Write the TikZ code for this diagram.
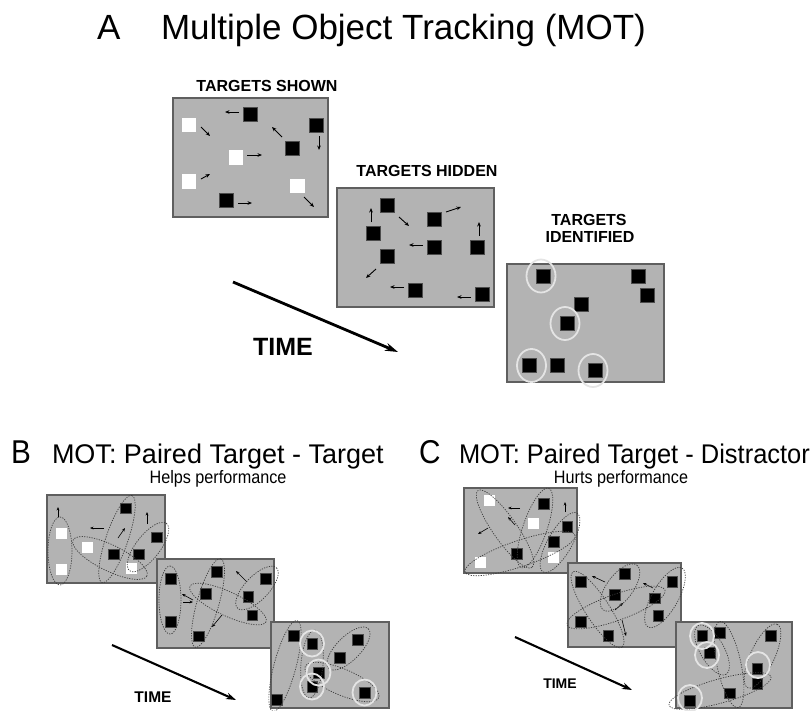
\documentclass[tikz,border=0pt]{standalone}
\usepackage{fontspec}
\setmainfont{Liberation Sans}
\usetikzlibrary{arrows.meta}
\definecolor{panelgray}{RGB}{179,179,179}
\definecolor{framegray}{RGB}{95,95,95}
\definecolor{ringgray}{RGB}{228,228,228}
\definecolor{pairgray}{RGB}{60,60,60}
\newcommand\hsc[2]{\scalebox{#1}[1]{#2}}
\newcommand\sq[4]{\node[#1] (#2) at (#3,#4) {};}
\newcommand\pairell[5]{\draw[pair,rotate around={#5:(#1,#2)}] (#1,#2) ellipse ({#3} and {#4});}
\newcommand\ringat[3]{\draw[ring] (#2,#3) ellipse (12 and 13);}
\begin{document}
\begin{tikzpicture}[x=1pt,y=-1pt,
  panel/.style={fill=panelgray,draw=framegray,line width=1.1pt},
  bigblk/.style={fill=black,draw=black!70,line width=0.4pt,minimum size=14pt,inner sep=0pt,outer sep=0pt},
  bigwht/.style={fill=white,draw=none,minimum size=14.5pt,inner sep=0pt,outer sep=0pt},
  smlblk/.style={fill=black,draw=black!70,line width=0.3pt,minimum size=10.5pt,inner sep=0pt,outer sep=0pt},
  smlwht/.style={fill=white,draw=none,minimum size=11pt,inner sep=0pt,outer sep=0pt},
  mov/.style={line width=0.9pt,-{Stealth[length=4.5pt,width=3.6pt]}},
  movs/.style={line width=0.6pt,-{Stealth[length=3.5pt,width=2.8pt]}},
  ring/.style={draw=ringgray,line width=1.8pt},
  pair/.style={draw=pairgray,line width=0.7pt,dash pattern=on 1.2pt off 1.3pt},
  timearrow/.style={line width=2.8pt,-{Stealth[length=13pt,width=8pt]}},
  timearrowsm/.style={line width=2.1pt,-{Stealth[length=10pt,width=6.5pt]}},
  lbl/.style={font=\bfseries\fontsize{16}{18}\selectfont,inner sep=0pt},
  txt/.style={inner sep=0pt,outer sep=0pt},
]
\useasboundingbox (0,0) rectangle (811,710);

% ---------------- Titles ----------------
\node[txt,anchor=base west] (tA) at (97,39) {\fontsize{35}{40}\selectfont A};
\node[txt,anchor=base west] (tAtitle) at (161,39) {\fontsize{35}{40}\selectfont Multiple Object Tracking (MOT)};

\node[txt,anchor=base west] (tB) at (11,463) {\fontsize{33}{36}\selectfont\hsc{0.9}{B}};
\node[txt,anchor=base west] (tBtitle) at (52,463) {\fontsize{27}{30}\selectfont\hsc{1.0}{MOT: Paired Target - Target}};
\node[txt,anchor=base] (tBsub) at (218,483) {\fontsize{18}{20}\selectfont\hsc{0.9}{Helps performance}};

\node[txt,anchor=base west] (tC) at (419,463) {\fontsize{33}{36}\selectfont\hsc{0.9}{C}};
\node[txt,anchor=base west] (tCtitle) at (459,463) {\fontsize{27}{30}\selectfont\hsc{0.943}{MOT: Paired Target - Distractor}};
\node[txt,anchor=base] (tCsub) at (621,483) {\fontsize{18}{20}\selectfont\hsc{0.9}{Hurts performance}};

% ---------------- Panel A ----------------
\node[lbl] (lshown) at (267,86) {TARGETS SHOWN};
\node[lbl] (lhidden) at (427,171) {TARGETS HIDDEN};
\node[lbl] (lid1) at (589,220) {TARGETS};
\node[lbl] (lid2) at (590,237) {IDENTIFIED};

% frame 1
\draw[panel] (173,98) rectangle (328,217);
\sq{bigwht}{a1}{189}{125}
\sq{bigblk}{a2}{250}{114.5}
\sq{bigblk}{a3}{316}{125}
\sq{bigblk}{a4}{292.5}{148.5}
\sq{bigwht}{a5}{236}{157.5}
\sq{bigwht}{a6}{189}{181.5}
\sq{bigwht}{a7}{297.5}{186}
\sq{bigblk}{a8}{226.5}{200}
\draw[mov] (239,112) -- (225,112);
\draw[mov] (201,127) -- (210,136);
\draw[mov] (282,137) -- (272,127);
\draw[mov] (319,136) -- (319,150);
\draw[mov] (247,155) -- (262,155);
\draw[mov] (201,179) -- (210,174);
\draw[mov] (238,203) -- (252,203);
\draw[mov] (304,197) -- (314,207);

% frame 2
\draw[panel] (337,188) rectangle (494,307);
\sq{bigblk}{h1}{387.5}{205}
\sq{bigblk}{h2}{373.5}{233.5}
\sq{bigblk}{h3}{434.5}{219}
\sq{bigblk}{h4}{434.5}{247.5}
\sq{bigblk}{h5}{477.5}{247.5}
\sq{bigblk}{h6}{387.5}{256.5}
\sq{bigblk}{h7}{415.5}{290}
\sq{bigblk}{h8}{482}{294.5}
\draw[mov] (371,222) -- (371,208);
\draw[mov] (399,217) -- (409,226);
\draw[mov] (446,212) -- (461,207);
\draw[mov] (479,236) -- (479,222);
\draw[mov] (423,245) -- (409,245);
\draw[mov] (376,269) -- (366,278);
\draw[mov] (404,287) -- (390,287);
\draw[mov] (471,297) -- (457,297);

% frame 3
\draw[panel] (507,264) rectangle (664,382);
\sq{bigblk}{i1}{543.5}{276}
\sq{bigblk}{i2}{638}{276}
\sq{bigblk}{i3}{647.5}{295}
\sq{bigblk}{i4}{581.5}{304.5}
\sq{bigblk}{i5}{567}{323.5}
\sq{bigblk}{i6}{529}{365.5}
\sq{bigblk}{i7}{557.5}{365.5}
\sq{bigblk}{i8}{595.5}{370.5}
\draw[ring] (541,276) ellipse (14.5 and 16.5);
\draw[ring] (565,323.5) ellipse (14.5 and 16.5);
\draw[ring] (531.5,365.5) ellipse (14.5 and 16.5);
\draw[ring] (593,370.5) ellipse (14.5 and 16.5);

% time arrow A
\coordinate (tAs) at (233,282);
\coordinate (tAe) at (398,352);
\draw[timearrow] (tAs) -- (tAe);
\node[txt,font=\bfseries\fontsize{25}{28}\selectfont] (timeA) at (283,347) {TIME};

% ---------------- Panel B ----------------
% B1
\draw[panel] (47,495) rectangle (165,583);
\sq{smlwht}{b1}{61}{533.5}
\sq{smlwht}{b2}{61}{569}
\sq{smlwht}{b3}{87.5}{547.5}
\sq{smlblk}{b4}{125.5}{508}
\sq{smlblk}{b5}{113.5}{554}
\sq{smlblk}{b6}{138.5}{554}
\sq{smlwht}{b7}{131.5}{568.5}
\sq{smlblk}{b8}{156.5}{537}
\draw[movs] (58,517) -- (58,507);
\draw[movs] (104,528) -- (90,528);
\draw[movs] (118,538) -- (125,528);
\draw[movs] (147,524) -- (147,512);
\pairell{60}{551}{34}{12}{90}
\pairell{117}{539}{46}{11}{71}
\pairell{110}{558}{41}{13}{-26}
\pairell{148}{547}{30}{12}{52}

% B2
\draw[panel] (157,559) rectangle (274,648);
\sq{smlblk}{c1}{170.5}{578.5}
\sq{smlblk}{c2}{216.5}{571.5}
\sq{smlblk}{c3}{205.5}{593.5}
\sq{smlblk}{c4}{265.5}{578.5}
\sq{smlblk}{c5}{248}{596.5}
\sq{smlblk}{c6}{252}{615}
\sq{smlblk}{c7}{170.5}{621.5}
\sq{smlblk}{c8}{198.5}{636}
\draw[movs] (183,602) -- (193,602);
\draw[movs] (193,600) -- (182,594);
\draw[movs] (222,615) -- (212,627);
\draw[movs] (247,582) -- (236,571);
\pairell{170}{600}{34}{11}{90}
\pairell{208}{603}{46}{11}{74}
\pairell{228}{604}{42}{12}{-25}
\pairell{257}{588}{28}{12}{46}

% B3
\draw[panel] (271,622) rectangle (389,708);
\sq{smlblk}{d1}{293.5}{635.5}
\sq{smlblk}{d2}{312}{643.5}
\sq{smlblk}{d3}{357.5}{639.5}
\sq{smlblk}{d4}{339.5}{657.5}
\sq{smlblk}{d5}{318.5}{672.5}
\sq{smlblk}{d6}{312}{686.5}
\sq{smlblk}{d7}{364.5}{692.5}
\sq{smlblk}{d8}{276.5}{699.5}
\pairell{285}{666}{47}{11}{75}
\pairell{312}{664}{34}{11}{85}
\pairell{342}{682}{40}{13}{-23}
\pairell{348.5}{648.5}{28}{12}{45}
\ringat{r1}{312}{643.5}
\ringat{r2}{318.5}{672.5}
\ringat{r3}{312}{686.5}
\ringat{r4}{364.5}{692.5}

% time arrow B
\coordinate (tBs) at (112,645);
\coordinate (tBe) at (236,700);
\draw[timearrowsm] (tBs) -- (tBe);
\node[txt,font=\bfseries\fontsize{15.5}{17}\selectfont] (timeB) at (153,697) {TIME};

% ---------------- Panel C ----------------
% C1
\draw[panel] (464,488) rectangle (577,573);
\sq{smlwht}{e1}{489.5}{500.5}
\sq{smlblk}{e2}{543.5}{503.5}
\sq{smlwht}{e3}{533.5}{523.5}
\sq{smlblk}{e4}{567}{526.5}
\sq{smlblk}{e5}{553.5}{541.5}
\sq{smlblk}{e6}{516.5}{553.5}
\sq{smlwht}{e7}{553.5}{557.5}
\sq{smlwht}{e8}{480.5}{562}
\draw[movs] (520,508) -- (508,508);
\draw[movs] (565,512) -- (565,502);
\draw[movs] (515,525) -- (508,517);
\draw[movs] (488,528) -- (478,534);
\pairell{505}{529}{47}{12}{-55}
\pairell{535}{528}{42}{12}{71}
\pairell{520}{553.5}{58}{13}{18.6}
\pairell{560}{542.5}{34}{12}{60}

% C2
\draw[panel] (568,563) rectangle (681,647);
\sq{smlblk}{f1}{580.5}{581.5}
\sq{smlblk}{f2}{624.5}{573.5}
\sq{smlblk}{f3}{614.5}{594.5}
\sq{smlblk}{f4}{672}{581.5}
\sq{smlblk}{f5}{654.5}{598}
\sq{smlblk}{f6}{658}{615.5}
\sq{smlblk}{f7}{580.5}{621.5}
\sq{smlblk}{f8}{608}{635.5}
\draw[movs] (605,582) -- (592,576);
\draw[movs] (653,588) -- (643,583);
\draw[movs] (615,610) -- (623,603);
\draw[movs] (622,620) -- (626,636);
\pairell{597.5}{609.5}{45}{12}{-57}
\pairell{620}{587.5}{28}{13}{53}
\pairell{616}{607.5}{52}{13}{19.7}
\pairell{665}{597.5}{34}{13}{60}

% C3
\draw[panel] (676,622) rectangle (792,708);
\sq{smlblk}{g1}{702}{635.5}
\sq{smlblk}{g2}{719.5}{632.5}
\sq{smlblk}{g3}{770.5}{635.5}
\sq{smlblk}{g4}{709.5}{652.5}
\sq{smlblk}{g5}{757}{668.5}
\sq{smlblk}{g6}{757}{683.5}
\sq{smlblk}{g7}{729.5}{693}
\sq{smlblk}{g8}{689.5}{700.5}
\pairell{729}{664.5}{44}{12}{-78}
\pairell{712}{650}{28}{12}{-60}
\pairell{762.5}{656}{35}{12}{65}
\pairell{720}{691}{53}{12}{15.6}
\ringat{s1}{702}{636}
\ringat{s2}{707}{655}
\ringat{s3}{758}{665}
\ringat{s4}{690}{698}

% time arrow C
\coordinate (tCs) at (515,637);
\coordinate (tCe) at (632,690);
\draw[timearrowsm] (tCs) -- (tCe);
\node[txt,font=\bfseries\fontsize{14}{16}\selectfont] (timeC) at (560,684) {TIME};
\end{tikzpicture}
\end{document}
